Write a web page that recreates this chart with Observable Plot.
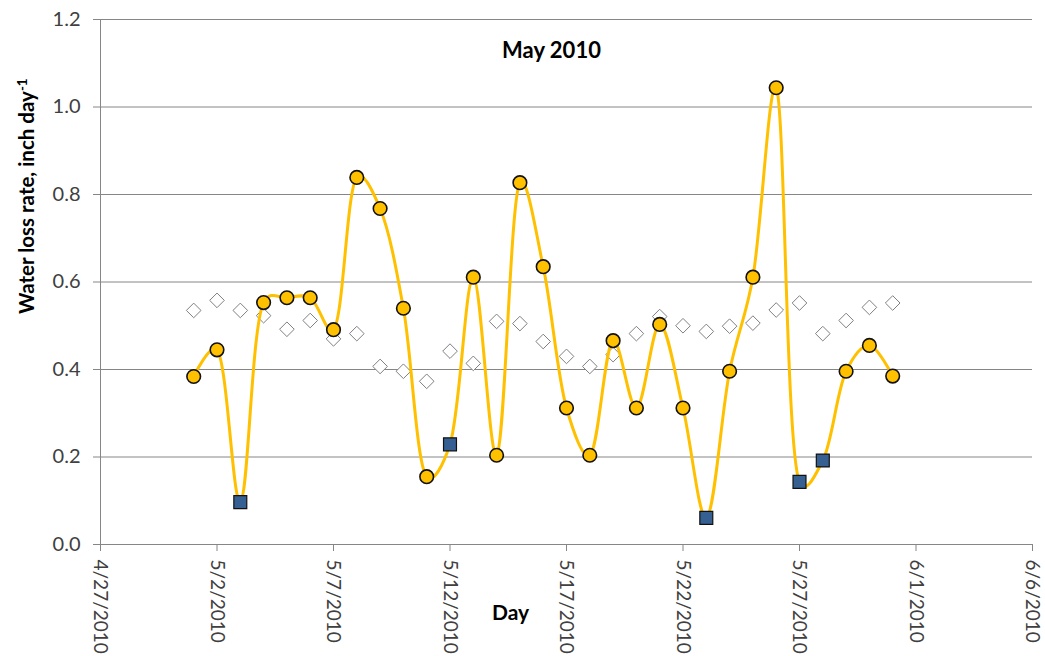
<!DOCTYPE html>
<html>
<head>
<meta charset="utf-8">
<script src="https://cdn.jsdelivr.net/npm/d3@7"></script>
<script src="https://cdn.jsdelivr.net/npm/@observablehq/plot@0.6"></script>
<style>
  html, body { margin: 0; padding: 0; background: #fff; }
  #chart { width: 1045px; height: 656px; overflow: hidden; }
</style>
</head>
<body>
<div id="chart"></div>
<script>
// Day of May 2010
const mayDays = [1,2,3,4,5,6,7,8,9,10,11,12,13,14,15,16,17,18,19,20,21,22,23,24,25,26,27,28,29,30,31];
// Measured water loss rate (inch/day) - smoothed yellow series
const waterLoss = [0.384,0.445,0.097,0.553,0.564,0.564,0.491,0.839,0.768,0.540,0.155,0.229,0.611,0.204,0.827,0.635,0.312,0.204,0.466,0.312,0.503,0.312,0.061,0.396,0.611,1.044,0.143,0.192,0.396,0.455,0.385];
// Marker type for each day of the yellow series
const markerType = ["circle","circle","square","circle","circle","circle","circle","circle","circle","circle","circle","square","circle","circle","circle","circle","circle","circle","circle","circle","circle","circle","square","circle","circle","circle","square","square","circle","circle","circle"];
// Open diamond series
const diamondValues = [0.535,0.558,0.535,0.523,0.492,0.512,0.470,0.482,0.407,0.396,0.373,0.442,0.414,0.510,0.505,0.464,0.430,0.407,0.434,0.482,0.521,0.500,0.487,0.499,0.506,0.536,0.552,0.482,0.512,0.542,0.552];
// Axis ticks
const xTickDates = ["2010-04-27","2010-05-02","2010-05-07","2010-05-12","2010-05-17","2010-05-22","2010-05-27","2010-06-01","2010-06-06"];
const yTicks = [0, 0.2, 0.4, 0.6, 0.8, 1.0, 1.2];

const toDate = s => new Date(s + "T00:00:00Z");
const mayDate = d => new Date(Date.UTC(2010, 4, d));
const rows = mayDays.map((d, i) => ({date: mayDate(d), loss: waterLoss[i], type: markerType[i], ref: diamondValues[i]}));
const xTicks = xTickDates.map(toDate);
const fmt = d => `${d.getUTCMonth() + 1}/${d.getUTCDate()}/${d.getUTCFullYear()}`;

const gridColor = "#868686";
const font = "Lato, 'Open Sans', sans-serif";

const plot = Plot.plot({
  width: 1045,
  height: 656,
  marginLeft: 100,
  marginRight: 13,
  marginTop: 19,
  marginBottom: 112,
  style: {fontFamily: font, background: "#fff", color: "#404040"},
  x: {type: "utc", domain: [xTicks[0], xTicks[xTicks.length - 1]], label: null},
  y: {domain: [0, 1.2], label: null},
  marks: [
    Plot.gridY(yTicks, {stroke: gridColor, strokeOpacity: 1, strokeWidth: 1}),
    Plot.ruleX([xTicks[0]], {stroke: gridColor, strokeWidth: 1}),
    Plot.ruleY([0], {stroke: gridColor, strokeWidth: 1}),
    Plot.axisY({ticks: yTicks, tickSize: 7, tickPadding: 13, tickFormat: d => d.toFixed(1), fontSize: 20, stroke: gridColor, fill: "#404040", label: null}),
    Plot.axisX({ticks: xTicks, tickSize: 7, tickPadding: 8, tickRotate: 90, tickFormat: fmt, fontSize: 19, stroke: gridColor, fill: "#404040", label: null}),
    Plot.dot(rows, {x: "date", y: "ref", symbol: "diamond2", r: 6.6, fill: "white", stroke: "#7f7f7f", strokeWidth: 1}),
    Plot.line(rows, {x: "date", y: "loss", stroke: "#FFC000", strokeWidth: 3, curve: d3.curveCatmullRom.alpha(0.3)}),
    Plot.dot(rows.filter(r => r.type === "circle"), {x: "date", y: "loss", r: 6.8, fill: "#FFC000", stroke: "#111", strokeWidth: 1.6}),
    Plot.dot(rows.filter(r => r.type === "square"), {x: "date", y: "loss", symbol: "square", r: 7.3, fill: "#376092", stroke: "#111", strokeWidth: 1.2}),
    Plot.text(["May 2010"], {text: d => d, frameAnchor: "top", dx: -15, dy: 23, fontSize: 22, fontWeight: "bold", fill: "#000"}),
    Plot.text(["Day"], {text: d => d, frameAnchor: "bottom", dx: -56, dy: 75, fontSize: 21, fontWeight: "bold", fill: "#000"}),
    Plot.text(["Water loss rate, inch day"], {text: d => d, frameAnchor: "left", dx: -73, dy: 32, rotate: -90, fontSize: 20.5, fontWeight: "bold", fill: "#000"})
  ]
});

d3.select(plot).selectAll("text")
  .filter(function() { return this.textContent === "Water loss rate, inch day"; })
  .append("tspan").attr("dy", "-0.55em").attr("font-size", "0.65em").text("-1");

document.getElementById("chart").appendChild(plot);
</script>
</body>
</html>
